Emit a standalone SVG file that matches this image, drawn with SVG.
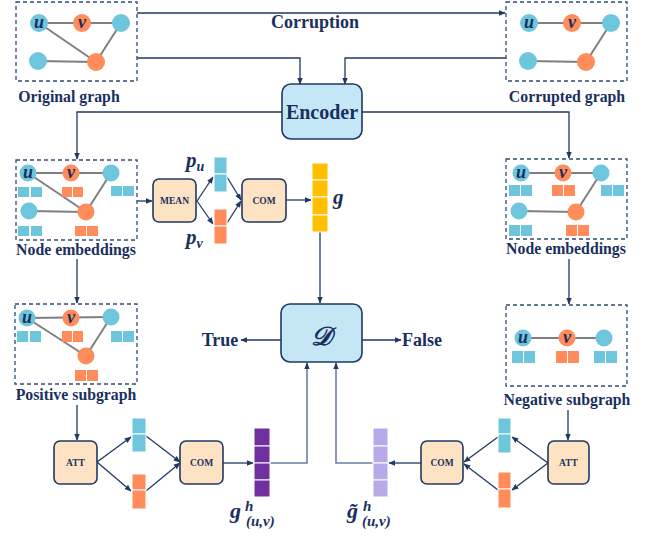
<svg xmlns="http://www.w3.org/2000/svg" width="649" height="536" viewBox="0 0 649 536">
<defs>
<marker id="ah" viewBox="0 0 10 10" refX="9" refY="5" markerWidth="7" markerHeight="7" orient="auto" markerUnits="userSpaceOnUse"><path d="M0,1 L10,5 L0,9 z" fill="#1f3864"/></marker>
</defs>
<style>
.frame{fill:none;stroke:#2f4a7a;stroke-width:1.3;stroke-dasharray:4,3}
.edge{stroke:#7f7f7f;stroke-width:2}
.nb{fill:#6ec6dc}
.no{fill:#ff8c5a}
.sq-b{fill:#6ec6dc}
.sq-o{fill:#ff8c5a}
.lbl{font-family:"Liberation Serif",serif;font-weight:bold;fill:#1a2f5e;font-size:15.8px;text-anchor:middle}
.math{font-family:"Liberation Serif",serif;font-weight:bold;font-style:italic;fill:#1a2f5e}
.nl{font-family:"Liberation Serif",serif;font-weight:bold;font-style:italic;fill:#1a2f5e;font-size:18px;text-anchor:middle}
.op{fill:#fde3c4;stroke:#1f3864;stroke-width:1.6}
.oplbl{font-family:"Liberation Serif",serif;font-weight:bold;fill:#1a2f5e;font-size:9.5px;text-anchor:middle}
.blue{fill:#c5e7f5;stroke:#1f3864;stroke-width:1.6}
.conn{fill:none;stroke:#1f3864;stroke-width:1.3}
.conng{fill:none;stroke:#6f7fa3;stroke-width:1.6}
.cell{stroke:#ffffff;stroke-width:1}
</style>

<g id="connectors">
<line class="conn" x1="137" y1="13" x2="505" y2="13" marker-end="url(#ah)"/>
<polyline class="conn" points="137,58 300,58 300,84" marker-end="url(#ah)"/>
<polyline class="conn" points="506,58 345,58 345,84" marker-end="url(#ah)"/>
<polyline class="conn" points="282,112 77,112 77,159" marker-end="url(#ah)"/>
<polyline class="conn" points="362,112 569,112 569,158" marker-end="url(#ah)"/>
<line class="conn" x1="137" y1="201" x2="152" y2="201" marker-end="url(#ah)"/>
<line class="conn" x1="197" y1="201" x2="213" y2="177" marker-end="url(#ah)"/>
<line class="conn" x1="197" y1="201" x2="213" y2="224" marker-end="url(#ah)"/>
<line class="conn" x1="227" y1="177" x2="241" y2="200" marker-end="url(#ah)"/>
<line class="conn" x1="227" y1="223" x2="241" y2="201" marker-end="url(#ah)"/>
<line class="conn" x1="286" y1="200" x2="311" y2="200" marker-end="url(#ah)"/>
<line class="conn" x1="320" y1="232" x2="320" y2="303" marker-end="url(#ah)"/>
<line class="conn" x1="281" y1="340" x2="241" y2="340" marker-end="url(#ah)"/>
<line class="conn" x1="362" y1="340" x2="401" y2="340" marker-end="url(#ah)"/>
<line class="conn" x1="77" y1="259" x2="77" y2="303" marker-end="url(#ah)"/>
<line class="conn" x1="569" y1="259" x2="569" y2="304" marker-end="url(#ah)"/>
<line class="conn" x1="77" y1="405" x2="77" y2="440" marker-end="url(#ah)"/>
<line class="conn" x1="568" y1="410" x2="568" y2="440" marker-end="url(#ah)"/>
<line class="conn" x1="97" y1="462" x2="131" y2="437" marker-end="url(#ah)"/>
<line class="conn" x1="97" y1="462" x2="131" y2="491" marker-end="url(#ah)"/>
<line class="conn" x1="146" y1="436" x2="180" y2="462" marker-end="url(#ah)"/>
<line class="conn" x1="146" y1="491" x2="180" y2="463" marker-end="url(#ah)"/>
<line class="conn" x1="223" y1="463" x2="253" y2="463" marker-end="url(#ah)"/>
<polyline class="conng" points="270,463 307,463 307,363" marker-end="url(#ah)"/>
<polyline class="conng" points="373,463 336,463 336,363" marker-end="url(#ah)"/>
<line class="conn" x1="421" y1="463" x2="389" y2="463" marker-end="url(#ah)"/>
<line class="conn" x1="548" y1="463" x2="512" y2="437" marker-end="url(#ah)"/>
<line class="conn" x1="548" y1="463" x2="512" y2="490" marker-end="url(#ah)"/>
<line class="conn" x1="498" y1="437" x2="464" y2="462" marker-end="url(#ah)"/>
<line class="conn" x1="498" y1="490" x2="464" y2="464" marker-end="url(#ah)"/>
<text class="lbl" x="315" y="28" style="font-size:18px">Corruption</text>
</g>

<g id="original-graph">
<rect class="frame" x="16" y="2" width="121" height="79"/>
<line class="edge" x1="39" y1="23" x2="121" y2="23"/>
<line class="edge" x1="39" y1="23" x2="96" y2="62"/>
<line class="edge" x1="38" y1="61" x2="96" y2="62"/>
<line class="edge" x1="121" y1="23" x2="96" y2="62"/>
<circle class="nb" cx="39" cy="23" r="9"/>
<circle class="no" cx="82" cy="23" r="9"/>
<circle class="nb" cx="121" cy="23" r="9"/>
<circle class="nb" cx="38" cy="61" r="9"/>
<circle class="no" cx="96" cy="62" r="9"/>
<text class="nl" x="39" y="28">u</text>
<text class="nl" x="82" y="28">v</text>
<text class="lbl" x="69" y="102">Original graph</text>
</g>

<g id="corrupted-graph">
<rect class="frame" x="506" y="2" width="121" height="79"/>
<line class="edge" x1="529" y1="23" x2="611" y2="23"/>
<line class="edge" x1="528" y1="61" x2="586" y2="62"/>
<line class="edge" x1="611" y1="23" x2="586" y2="62"/>
<circle class="nb" cx="529" cy="23" r="9"/>
<circle class="no" cx="572" cy="23" r="9"/>
<circle class="nb" cx="611" cy="23" r="9"/>
<circle class="nb" cx="528" cy="61" r="9"/>
<circle class="no" cx="586" cy="62" r="9"/>
<text class="nl" x="529" y="28">u</text>
<text class="nl" x="572" y="28">v</text>
<text class="lbl" x="567" y="102">Corrupted graph</text>
</g>

<g id="encoder">
<rect class="blue" x="282" y="84" width="80" height="55" rx="9"/>
<text class="lbl" x="322" y="119" style="font-size:20px">Encoder</text>
</g>

<g id="node-embeddings-left">
<rect class="frame" x="16" y="160" width="121" height="80"/>
<line class="edge" x1="28" y1="173" x2="111" y2="173"/>
<line class="edge" x1="28" y1="173" x2="86" y2="212"/>
<line class="edge" x1="29" y1="211" x2="86" y2="212"/>
<line class="edge" x1="111" y1="173" x2="86" y2="212"/>
<circle class="nb" cx="28" cy="173" r="8.5"/>
<circle class="no" cx="71" cy="173" r="8.5"/>
<circle class="nb" cx="111" cy="173" r="8.5"/>
<circle class="nb" cx="29" cy="211" r="8.5"/>
<circle class="no" cx="86" cy="212" r="8.5"/>
<text class="nl" x="28" y="178">u</text>
<text class="nl" x="71" y="178">v</text>
<rect class="sq-b" x="18" y="187" width="11" height="10"/><rect class="sq-b" x="31" y="187" width="11" height="10"/>
<rect class="sq-o" x="62" y="187" width="10" height="10"/><rect class="sq-o" x="73" y="187" width="10" height="10"/>
<rect class="sq-b" x="111" y="186" width="11" height="10"/><rect class="sq-b" x="123" y="186" width="11" height="10"/>
<rect class="sq-b" x="18" y="226" width="11" height="10"/><rect class="sq-b" x="31" y="226" width="11" height="10"/>
<rect class="sq-o" x="75" y="226" width="11" height="10"/><rect class="sq-o" x="87" y="226" width="11" height="10"/>
<text class="lbl" x="76" y="255">Node embeddings</text>
</g>

<g id="node-embeddings-right">
<rect class="frame" x="506" y="159" width="121" height="80"/>
<line class="edge" x1="521" y1="173" x2="601" y2="173"/>
<line class="edge" x1="519" y1="211" x2="576" y2="212"/>
<line class="edge" x1="601" y1="173" x2="576" y2="212"/>
<circle class="nb" cx="521" cy="173" r="8.5"/>
<circle class="no" cx="563" cy="173" r="8.5"/>
<circle class="nb" cx="601" cy="173" r="8.5"/>
<circle class="nb" cx="519" cy="211" r="8.5"/>
<circle class="no" cx="576" cy="212" r="8.5"/>
<text class="nl" x="521" y="178">u</text>
<text class="nl" x="563" y="178">v</text>
<rect class="sq-b" x="509" y="185" width="11" height="11"/><rect class="sq-b" x="521" y="185" width="11" height="11"/>
<rect class="sq-o" x="552" y="185" width="11" height="11"/><rect class="sq-o" x="564" y="185" width="11" height="11"/>
<rect class="sq-b" x="601" y="185" width="11" height="11"/><rect class="sq-b" x="613" y="185" width="11" height="11"/>
<rect class="sq-b" x="509" y="225" width="11" height="11"/><rect class="sq-b" x="521" y="225" width="11" height="11"/>
<rect class="sq-o" x="566" y="225" width="11" height="11"/><rect class="sq-o" x="578" y="225" width="11" height="11"/>
<text class="lbl" x="566" y="254">Node embeddings</text>
</g>

<g id="mean">
<rect class="op" x="153" y="179" width="43" height="43" rx="6"/>
<text class="oplbl" x="174.5" y="204">MEAN</text>
</g>

<g id="p-u">
<rect class="sq-b cell" x="214" y="157" width="13" height="17"/>
<rect class="sq-b cell" x="214" y="174" width="13" height="18"/>
<text class="math" x="186" y="167" style="font-size:21px">p<tspan dy="4" style="font-size:14px">u</tspan></text>
</g>

<g id="p-v">
<rect class="sq-o cell" x="214" y="209" width="13" height="17"/>
<rect class="sq-o cell" x="214" y="226" width="13" height="18"/>
<text class="math" x="186" y="244" style="font-size:21px">p<tspan dy="4" style="font-size:14px">v</tspan></text>
</g>

<g id="com-top">
<rect class="op" x="242" y="179" width="44" height="43" rx="6"/>
<text class="oplbl" x="264" y="204">COM</text>
</g>

<g id="g-vector">
<rect class="cell" fill="#ffc000" x="312" y="163" width="16" height="17"/>
<rect class="cell" fill="#ffc000" x="312" y="180" width="16" height="17"/>
<rect class="cell" fill="#ffc000" x="312" y="197" width="16" height="18"/>
<rect class="cell" fill="#ffc000" x="312" y="215" width="16" height="17"/>
<text class="math" x="333" y="204" style="font-size:21px">g</text>
</g>

<g id="discriminator">
<rect class="blue" x="281" y="304" width="81" height="58" rx="9"/>
<text class="math" x="321" y="345" text-anchor="middle" style="font-size:26px">𝒟</text>
<text class="lbl" x="220" y="346" style="font-size:18px">True</text>
<text class="lbl" x="422" y="346" style="font-size:18px">False</text>
</g>

<g id="positive-subgraph">
<rect class="frame" x="15" y="304" width="122" height="80"/>
<line class="edge" x1="27" y1="318" x2="111" y2="317"/>
<line class="edge" x1="27" y1="318" x2="86" y2="356"/>
<line class="edge" x1="111" y1="317" x2="86" y2="356"/>
<circle class="nb" cx="27" cy="318" r="8.5"/>
<circle class="no" cx="71" cy="318" r="8.5"/>
<circle class="nb" cx="111" cy="317" r="8.5"/>
<circle class="no" cx="86" cy="356" r="8.5"/>
<text class="nl" x="27" y="323">u</text>
<text class="nl" x="71" y="323">v</text>
<rect class="sq-b" x="17" y="331" width="11" height="11"/><rect class="sq-b" x="30" y="331" width="11" height="11"/>
<rect class="sq-o" x="62" y="331" width="10" height="11"/><rect class="sq-o" x="73" y="331" width="10" height="11"/>
<rect class="sq-b" x="111" y="331" width="11" height="11"/><rect class="sq-b" x="123" y="331" width="11" height="11"/>
<rect class="sq-o" x="75" y="370" width="11" height="11"/><rect class="sq-o" x="87" y="370" width="11" height="11"/>
<text class="lbl" x="76" y="400">Positive subgraph</text>
</g>

<g id="negative-subgraph">
<rect class="frame" x="506" y="305" width="121" height="81"/>
<line class="edge" x1="523" y1="338" x2="604" y2="338"/>
<circle class="nb" cx="523" cy="338" r="8.5"/>
<circle class="no" cx="567" cy="338" r="8.5"/>
<circle class="nb" cx="604" cy="338" r="8.5"/>
<text class="nl" x="523" y="343">u</text>
<text class="nl" x="567" y="343">v</text>
<rect class="sq-b" x="512" y="351" width="11" height="12"/><rect class="sq-b" x="524" y="351" width="11" height="12"/>
<rect class="sq-o" x="556" y="351" width="11" height="12"/><rect class="sq-o" x="568" y="351" width="11" height="12"/>
<rect class="sq-b" x="594" y="351" width="11" height="12"/><rect class="sq-b" x="606" y="351" width="11" height="12"/>
<text class="lbl" x="567" y="405">Negative subgraph</text>
</g>

<g id="att-left">
<rect class="op" x="54" y="441" width="43" height="43" rx="6"/>
<text class="oplbl" x="75.5" y="466">ATT</text>
</g>

<g id="vec-left-blue">
<rect class="sq-b cell" x="132" y="418" width="14" height="16"/>
<rect class="sq-b cell" x="132" y="434" width="14" height="18"/>
</g>

<g id="vec-left-orange">
<rect class="sq-o cell" x="132" y="474" width="14" height="16"/>
<rect class="sq-o cell" x="132" y="490" width="14" height="19"/>
</g>

<g id="com-left">
<rect class="op" x="180" y="441" width="43" height="43" rx="6"/>
<text class="oplbl" x="201.5" y="466">COM</text>
</g>

<g id="gh-vector">
<rect class="cell" fill="#7030a0" x="254" y="428" width="16" height="18"/>
<rect class="cell" fill="#7030a0" x="254" y="446" width="16" height="17"/>
<rect class="cell" fill="#7030a0" x="254" y="463" width="16" height="17"/>
<rect class="cell" fill="#7030a0" x="254" y="480" width="16" height="17"/>
<text class="math" x="230" y="518" style="font-size:22px">g</text>
<text class="math" x="245" y="511" style="font-size:15px">h</text>
<text class="math" x="246" y="526" style="font-size:15px">(u,v)</text>
</g>

<g id="gh-tilde-vector">
<rect class="cell" fill="#b8a9e8" x="373" y="428" width="15" height="18"/>
<rect class="cell" fill="#b8a9e8" x="373" y="446" width="15" height="17"/>
<rect class="cell" fill="#b8a9e8" x="373" y="463" width="15" height="17"/>
<rect class="cell" fill="#b8a9e8" x="373" y="480" width="15" height="17"/>
<text class="math" x="347" y="518" style="font-size:22px">g̃</text>
<text class="math" x="363" y="511" style="font-size:15px">h</text>
<text class="math" x="362" y="526" style="font-size:15px">(u,v)</text>
</g>

<g id="com-right">
<rect class="op" x="421" y="441" width="42" height="43" rx="6"/>
<text class="oplbl" x="442" y="466">COM</text>
</g>

<g id="vec-right-blue">
<rect class="sq-b cell" x="498" y="418" width="13" height="16"/>
<rect class="sq-b cell" x="498" y="434" width="13" height="19"/>
</g>

<g id="vec-right-orange">
<rect class="sq-o cell" x="498" y="472" width="13" height="17"/>
<rect class="sq-o cell" x="498" y="489" width="13" height="19"/>
</g>

<g id="att-right">
<rect class="op" x="548" y="441" width="41" height="43" rx="6"/>
<text class="oplbl" x="568.5" y="466">ATT</text>
</g>
</svg>
